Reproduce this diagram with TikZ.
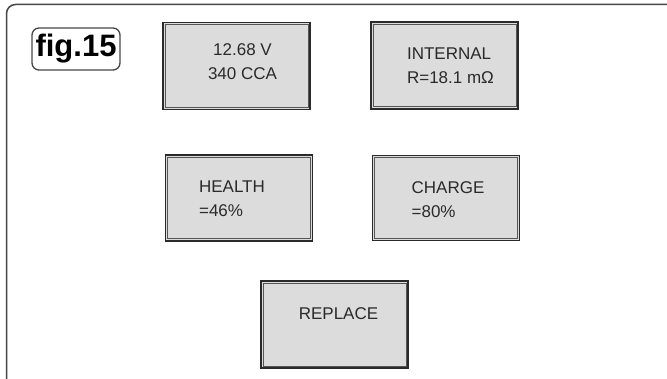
\documentclass[tikz,border=0pt]{standalone}
\usepackage{fontspec}
\setsansfont{Liberation Sans}
\usetikzlibrary{positioning, calc}
\definecolor{frameink}{HTML}{454545}
\definecolor{lcdgrey}{HTML}{DCDCDC}
\definecolor{lcdink}{HTML}{2A2A2A}

\begin{document}
\begin{tikzpicture}[x=1pt, y=1pt,
  display/.style={draw=lcdink, line width=1.7pt, fill=lcdgrey,
    minimum width=147pt, minimum height=87pt, inner sep=0pt},
  bezel/.style={draw=lcdink!80, line width=0.7pt},
  readout/.style={font=\sffamily\fontsize{17}{24}\selectfont, text=lcdink, inner sep=0pt}]

% Canvas
\useasboundingbox (0,0) rectangle (667,378);

% Outer frame (runs off the right and bottom)
\begin{scope}
\clip (0,0) rectangle (667,378);
\draw[frameink, line width=1.5pt, rounded corners=9pt] (6.5,373.5) rectangle (720,-40);
\end{scope}

% Figure tag
\node[draw=frameink, line width=1.3pt, rounded corners=7pt, minimum width=88pt, minimum height=42pt,
  inner sep=0pt, font=\sffamily\bfseries\fontsize{31}{31}\selectfont] (tag) at (76,329) {fig.15};

% --- Display screens ---
\node[display] (volts) at (236.5,312) {};
\node[display] (resist) at (444.5,312.5) {};
\node[display, minimum height=86pt] (health) at (239,180) {};
\node[display, minimum height=85pt] (charge) at (446,180) {};
\node[display] (replace) at (334.5,53.5) {};

% inner bezel line of each screen
\foreach \scr in {volts, resist, health, charge, replace}
  \draw[bezel] ($(\scr.south west)+(3,3)$) rectangle ($(\scr.north east)-(3,3)$);

% --- Readouts ---
\node[readout, align=center] (voltstxt) at ($(volts.center)+(6,4)$) {12.68 V\\340 CCA};
\node[readout, align=left] (resisttxt) at ($(resist.center)+(6,0)$) {INTERNAL\\R=18.1 mΩ};
\node[readout, align=left] (healthtxt) at ($(health.center)+(-7,-1)$) {HEALTH\\=46\%};
\node[readout, align=left] (chargetxt) at ($(charge.center)+(2,-2)$) {CHARGE\\=80\%};
\node[readout] (replacetxt) at ($(replace.center)+(4,11)$) {REPLACE};

\end{tikzpicture}
\end{document}
